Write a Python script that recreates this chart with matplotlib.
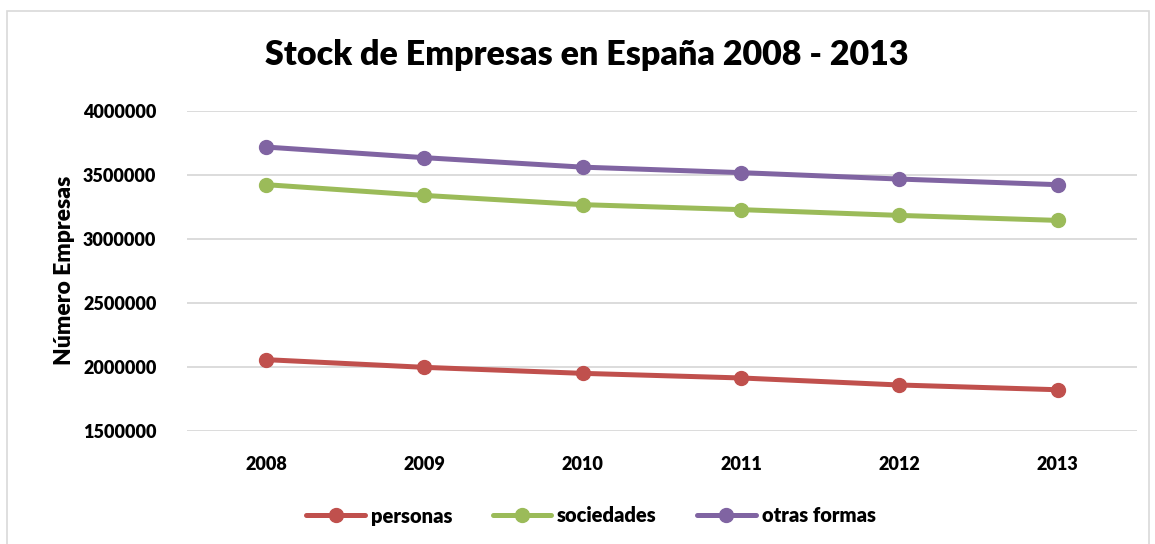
import matplotlib
matplotlib.use("Agg")
import matplotlib.pyplot as plt
from matplotlib.patches import Rectangle
from matplotlib.ticker import FixedLocator

years = ["2008", "2009", "2010", "2011", "2012", "2013"]
personas = [2055000, 1995000, 1948000, 1912000, 1857000, 1820000]
sociedades = [3422000, 3338000, 3266000, 3227000, 3182000, 3143000]
otras_formas = [3716000, 3633000, 3559000, 3516000, 3466000, 3422000]
series_names = ["personas", "sociedades", "otras formas"]
colors = ["#C0504D", "#9BBB59", "#8064A2"]
yticks = [1500000, 2000000, 2500000, 3000000, 3500000, 4000000]

plt.rcParams['font.family'] = ['Lato', 'DejaVu Sans']
W = "heavy"

fig = plt.figure(figsize=(11.55, 5.44), dpi=100)
# chart border
fig.patches.append(Rectangle((7/1155, -0.05), 1142/1155, 1 - 11/544 + 0.05,
                             transform=fig.transFigure, fill=False,
                             edgecolor="#D9D9D9", linewidth=1.2))

ax = fig.add_axes([187/1155, 1 - 430.7/544, (1137-187)/1155, (430.7-110.7)/544])
x = list(range(len(years)))
for vals, name, c in zip([personas, sociedades, otras_formas], series_names, colors):
    ax.plot(x, vals, color=c, linewidth=3.6, marker="o", markersize=10,
            label=name, solid_capstyle="round")

ax.set_xlim(-0.5, len(years) - 0.5)
ax.set_ylim(1500000, 4000000)
ax.yaxis.set_major_locator(FixedLocator(yticks))
ax.set_yticklabels([str(v) for v in yticks], fontsize=13, fontweight=W)
ax.set_xticks(x)
ax.set_xticklabels(years, fontsize=13, fontweight=W)
ax.grid(axis="y", color="#D9D9D9", linewidth=1.3)
ax.set_axisbelow(True)
for s in ax.spines.values():
    s.set_visible(False)
ax.tick_params(axis="both", length=0)
ax.tick_params(axis="y", pad=22)
ax.tick_params(axis="x", pad=18)
ax.set_ylabel("Número Empresas", fontsize=16.5, fontweight=W, labelpad=6)

fig.text(587/1155, 1 - 55/544, "Stock de Empresas en España 2008 - 2013",
         ha="center", va="center", fontsize=24.5, fontweight=W)

fig.legend(loc="center", bbox_to_anchor=(591/1155, 1 - 516/544), ncol=3,
           frameon=False, prop={"size": 14.5, "weight": W},
           handlelength=2.9, columnspacing=2.0, handletextpad=0.3)

fig.savefig("out.png", dpi=100)
